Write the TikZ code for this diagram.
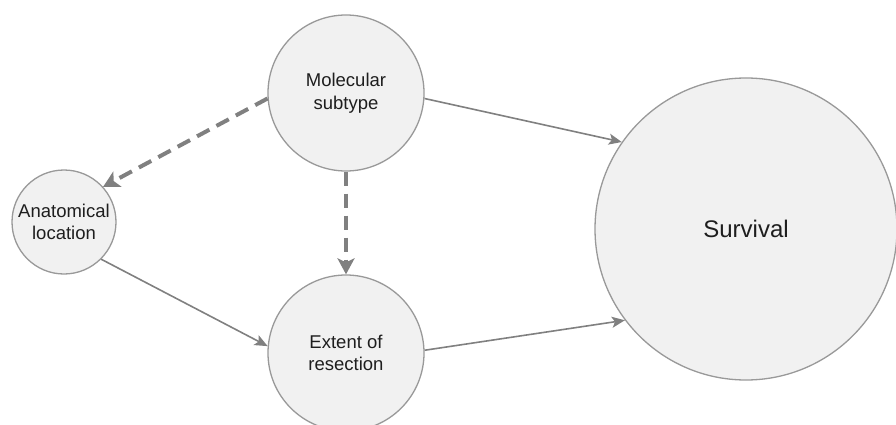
\documentclass[tikz,border=0pt]{standalone}
\usepackage{fontspec}
\setmainfont{Liberation Sans}
\usepackage{tikz}
\usetikzlibrary{arrows.meta}
\definecolor{circleFill}{HTML}{F1F1F1}
\definecolor{circleLine}{HTML}{999999}
\definecolor{arrowColor}{HTML}{808080}
\definecolor{textColor}{HTML}{1E1E1E}

\begin{document}
\begin{tikzpicture}[x=1pt, y=-1pt,
        factor/.style={circle, draw=circleLine, fill=circleFill, line width=1.3pt, text=textColor, align=center, inner sep=0pt, font=\fontsize{18.5}{22.5}\selectfont},
        effect/.style={draw=arrowColor, line width=1.6pt, -{Stealth[length=13pt, width=11pt, inset=3pt]}},
        assoc/.style={draw=arrowColor, line width=4pt, dash pattern=on 14pt off 8pt, -{Stealth[length=16pt, width=17pt, inset=4pt]}}]
        \clip (0,0) rectangle (896,425);
        \node[factor, minimum size=156pt] (molecular) at (346,93) {Molecular\\subtype};
        \node[factor, minimum size=104pt] (anatomical) at (64,222) {Anatomical\\location};
        \node[factor, minimum size=156pt] (extent) at (346,353) {Extent of\\resection};
        \node[factor, minimum size=302pt, font=\fontsize{24}{28}\selectfont] (survival) at (746,229) {Survival};
        % solid arrows
        \draw[effect] (molecular.-4.5) -- (survival.145.6);
        \draw[effect] (extent.2) -- (survival.217.3);
        \draw[effect] (anatomical.-45) -- (extent.175);
        % dashed arrows
        \draw[assoc] (molecular.184.5) -- (anatomical.42.7);
        \draw[assoc] (molecular.south) -- (extent.north);
\end{tikzpicture}
\end{document}
